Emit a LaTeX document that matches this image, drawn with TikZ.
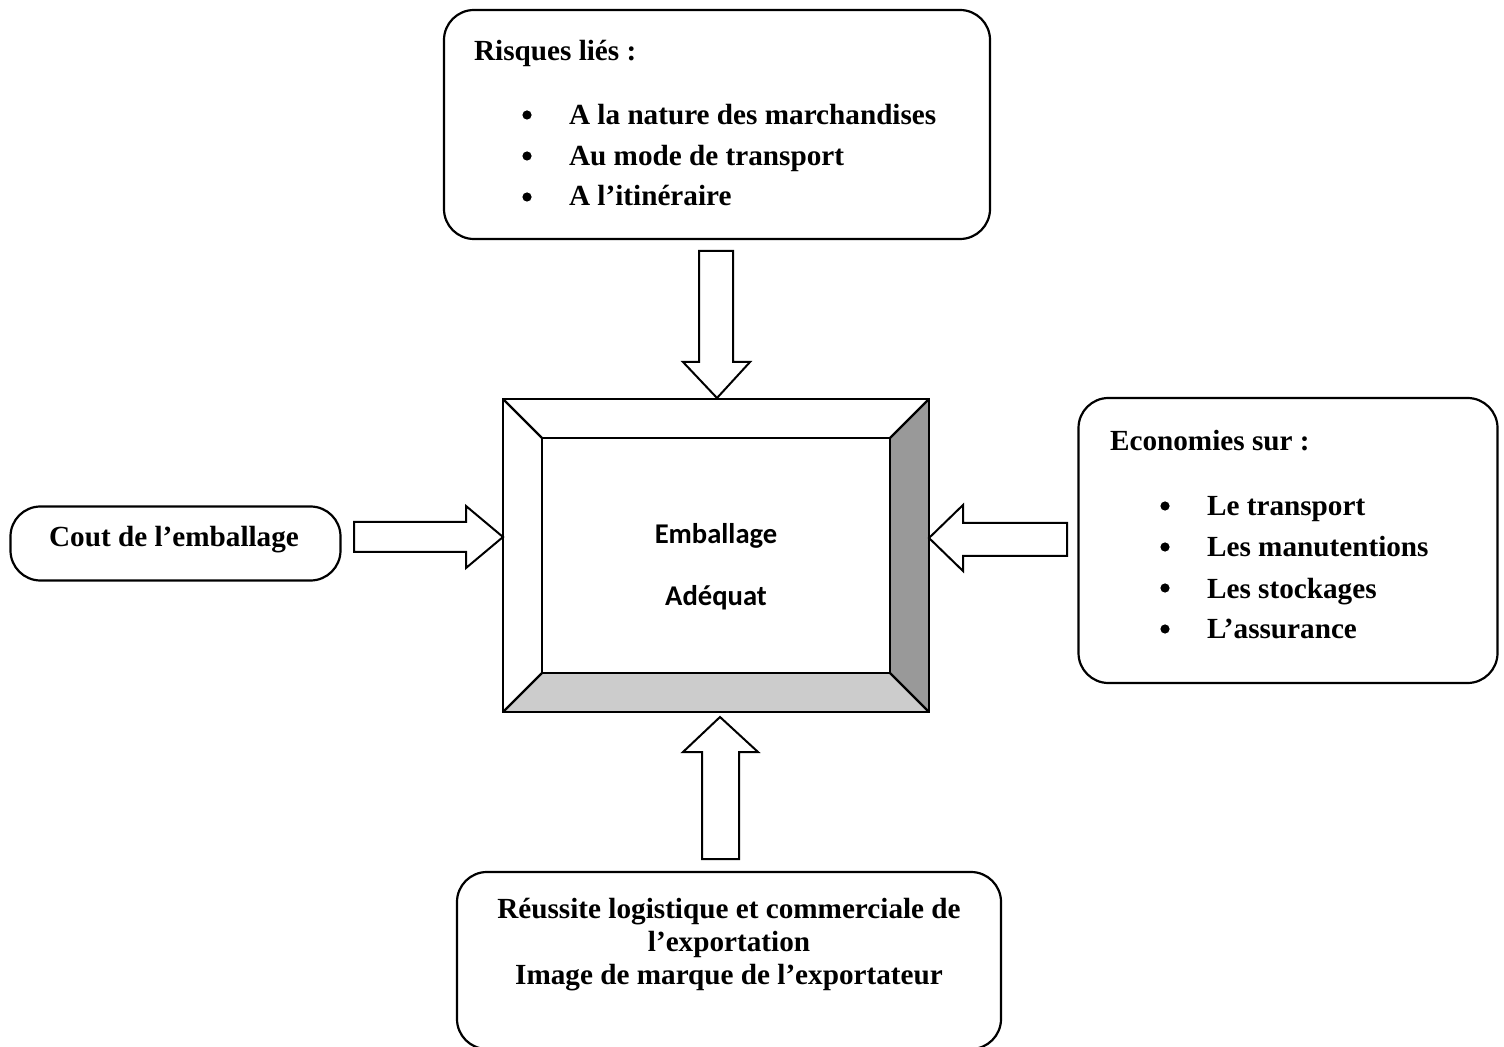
\documentclass[tikz,border=0pt]{standalone}
\usepackage{fontspec}
\setmainfont{Liberation Serif}
\newfontfamily\calibfont{Carlito}
\begin{document}
\begin{tikzpicture}[x=0.5pt,y=-0.5pt,line width=1.1pt,line join=miter,
  rbox/.style={draw,rounded corners=15pt,line width=1.1pt,inner sep=0pt},
  txt/.style={font=\fontsize{14.6}{16.5}\selectfont\bfseries,inner sep=0pt,anchor=base west},
  ctxt/.style={font=\fontsize{14.6}{16.5}\selectfont\bfseries,inner sep=0pt,anchor=base,align=center},
  ctxtc/.style={font=\calibfont\fontsize{14.3}{16}\selectfont\bfseries,inner sep=0pt,anchor=base},
  blockarrow/.style={draw,fill=white,line width=1pt,line join=miter}]
\useasboundingbox (0,0) rectangle (1504,1047);

% boxes
\node[rbox,minimum width=273pt,minimum height=114.5pt] (risk) at (717,124.5) {};
\node[rbox,minimum width=209.5pt,minimum height=142.5pt] (eco) at (1288,540.5) {};
\node[rbox,minimum width=165pt,minimum height=37pt] (cout) at (175.5,543.5) {};
\node[rbox,minimum width=272pt,minimum height=88.5pt] (reus) at (729,960.5) {};

% bevel box
\node[minimum width=213pt,minimum height=156.5pt,inner sep=0pt] (emb) at (716,555.25) {};
\coordinate (o1) at (503,399); \coordinate (o2) at (929,399);
\coordinate (o3) at (929,712); \coordinate (o4) at (503,712);
\coordinate (i1) at (542,438); \coordinate (i2) at (890,438);
\coordinate (i3) at (890,673); \coordinate (i4) at (542,673);
\fill[white] (o1) -- (o2) -- (i2) -- (i1) -- cycle;
\fill[white] (o1) -- (i1) -- (i4) -- (o4) -- cycle;
\fill[black!40] (o2) -- (o3) -- (i3) -- (i2) -- cycle;
\fill[black!20] (o4) -- (i4) -- (i3) -- (o3) -- cycle;
\draw (o1) rectangle (o3);
\draw (i1) rectangle (i3);
\draw (o1) -- (i1) (o2) -- (i2) (o3) -- (i3) (o4) -- (i4);
\node[ctxtc] (t1) at (716,544) {Emballage};
\node[ctxtc] (t2) at (716,605) {Adéquat};

% texts top box
\node[txt] (rt) at (473,61) {Risques liés :};
\node[txt] (r1) at (568,125) {A la nature des marchandises};
\node[txt] (r2) at (568,166) {Au mode de transport};
\node[txt] (r3) at (568,206) {A l’itinéraire};
\foreach \yy in {115,156,197} \fill (527,\yy) circle (2.3pt);

% texts right box
\node[txt] (et) at (1109,451) {Economies sur :};
\node[txt] (e1) at (1206,516) {Le transport};
\node[txt] (e2) at (1206,557) {Les manutentions};
\node[txt] (e3) at (1206,598) {Les stockages};
\node[txt] (e4) at (1206,639) {L’assurance};
\foreach \yy in {506,547,588,629} \fill (1165,\yy) circle (2.3pt);

% left text
\node[ctxt] (ct) at (174,547) {Cout de l’emballage};

% bottom text
\node[ctxt] (b1) at (729,918) {Réussite logistique et commerciale de};
\node[ctxt] (b2) at (729,951) {l’exportation};
\node[ctxt] (b3) at (729,984) {Image de marque de l’exportateur};

% block arrows
\draw[blockarrow] (699,251) -- (733,251) -- (733,362) -- (750,362) -- (717,398) -- (683,362) -- (699,362) -- cycle;
\draw[blockarrow] (354,522) -- (466,522) -- (466,506) -- (503,537) -- (466,568) -- (466,552) -- (354,552) -- cycle;
\draw[blockarrow] (1067,523) -- (963,523) -- (963,505) -- (929,538) -- (963,571) -- (963,556) -- (1067,556) -- cycle;
\draw[blockarrow] (702,859) -- (702,752) -- (683,752) -- (720,717) -- (758,752) -- (739,752) -- (739,859) -- cycle;
\end{tikzpicture}
\end{document}
